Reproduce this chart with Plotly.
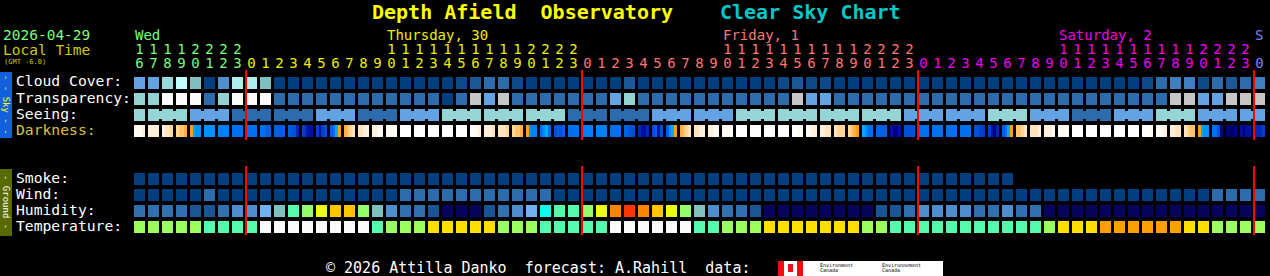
import plotly.graph_objects as go

# ---------------- data ----------------
hours = [16, 17, 18, 19, 20, 21, 22, 23] + list(range(24)) + list(range(24)) + list(range(24)) + [0]
day_index = [0] * 8 + [1] * 24 + [2] * 24 + [3] * 24 + [4]
day_names = ["Wed", "Thursday, 30", "Friday, 1", "Saturday, 2", "S"]
day_colors = ["#7cfc7c", "#eeee00", "#ff7474", "#ee00ee", "#8080ff"]

# cloud cover, percent
cloud_cover = [60, 60, 80, 100, 70, 0, 50, 90, 90, 70,
               0, 0, 0, 0, 0, 0, 0, 0, 0, 0,
               0, 0, 0, 10, 20, 30, 30, 10, 0, 0,
               0, 0, 0, 0, 0, 20, 0, 0, 0, 0,
               0, 0, 0, 0, 0, 0, 10, 20, 10, 10,
               0, 0, 0, 0, 0, 0, 0, 0, 0, 0,
               0, 0, 0, 0, 0, 0, 0, 0, 0, 0,
               0, 0, 10, 30, 40, 40, 10, 30, 20, 30,
               40]
# transparency: 0 transparent .. 3 below avg, 4 poor, 5 too cloudy
transparency = [3, 3, 5, 5, 5, 1, 3, 5, 5, 5,
                1, 1, 1, 1, 1, 1, 1, 1, 1, 1,
                1, 1, 0, 1, 4, 2, 4, 1, 1, 1,
                1, 1, 1, 1, 2, 3, 1, 1, 1, 1,
                1, 1, 1, 1, 1, 1, 1, 4, 2, 2,
                1, 1, 1, 1, 1, 1, 1, 1, 1, 1,
                1, 1, 1, 1, 1, 1, 1, 1, 1, 1,
                1, 1, 1, 1, 4, 4, 2, 2, 4, 4,
                4]
# seeing, x/5
seeing = [2, 2, 2, 2, 3, 3, 3, 4, 4, 4,
          4, 4, 4, 3, 3, 3, 4, 4, 4, 3,
          3, 3, 2, 2, 2, 2, 2, 2, 2, 2,
          2, 4, 4, 4, 4, 4, 4, 3, 3, 3,
          3, 3, 3, 2, 2, 2, 2, 2, 2, 2,
          2, 2, 2, 2, 2, 3, 3, 3, 3, 3,
          3, 2, 2, 2, 3, 3, 3, 4, 4, 4,
          3, 3, 3, 2, 2, 2, 3, 3, 3, 3,
          3]
# darkness, four quarter-hour codes per hour
darkness = ["1112", "2222", "2334", "4556", "Ocbb", "bbbb", "BBBB", "mmmm", "mmmm", "mmMM",
            "MMMM", "Mnnd", "NdDD", "NDNn", "MmcO", "6543", "3322", "2211", "111W", "WWWW",
            "WWWW", "WWWW", "WWWW", "WWWW", "W112", "2223", "3334", "4556", "ObBB", "mbcm",
            "nMnM", "mmmm", "BBBB", "BBBB", "mmmm", "MMnn", "dDDd", "nMDn", "MbcO", "6543",
            "3322", "2211", "111W", "WWWW", "WWWW", "WWWW", "WWWW", "WW11", "1122", "2233",
            "3444", "456O", "cbmm", "MMMM", "DkkD", "nnnn", "mmmm", "mmmm", "mmmm", "mmmm",
            "nnNN", "NDkd", "MmcO", "5543", "3332", "2221", "1111", "WWWW", "WWWW", "WWWW",
            "WWWW", "WWWW", "WWW1", "1112", "2233", "3455", "Ocbb", "mmnk", "kKKk", "DkDD",
            "dddN"]
# smoke (0 = none); forecast ends after 63 hours
smoke = [0, 0, 0, 0, 0, 0, 0, 0, 0, 0, 0, 0, 0, 0, 0, 0, 0, 0, 0, 0, 0,
         0, 0, 0, 0, 0, 0, 0, 0, 0, 0, 0, 0, 0, 0, 0, 0, 0, 0, 0, 0, 0,
         0, 0, 0, 0, 0, 0, 0, 0, 0, 0, 0, 0, 0, 0, 0, 0, 0, 0, 0, 0, 0]
# wind class (0 = calm, 1 = light)
wind = [0, 0, 0, 0, 0, 1, 0, 0, 0, 0,
        0, 0, 0, 0, 0, 0, 0, 0, 0, 1,
        1, 1, 1, 1, 1, 1, 1, 1, 1, 1,
        0, 0, 0, 0, 0, 0, 0, 0, 0, 0,
        0, 0, 0, 0, 0, 0, 0, 0, 0, 0,
        0, 0, 0, 0, 0, 0, 0, 0, 0, 0,
        0, 0, 0, 0, 0, 0, 0, 0, 0, 0,
        0, 0, 0, 0, 0, 0, 0, 1, 1, 1,
        1]
# relative humidity, percent
humidity = [32, 32, 32, 32, 27, 27, 32, 37, 37, 42, 47, 57, 62, 67,
            72, 72, 62, 47, 37, 32, 32, 27, 22, 22, 22, 27, 32, 37, 42, 52, 57, 57, 62, 67, 77, 82, 77,
            72, 67, 62, 47, 37, 32, 32, 27, 22, 22, 22, 22, 22, 22, 22, 22, 27, 27, 32, 37, 37, 37, 37,
            32, 32, 37, 32, 32,
            22, 22, 22, 22, 22, 22, 22, 22, 22, 22, 22, 22, 22, 22, 22, 22]
# temperature, deg C
temperature = [18, 18, 18, 18, 18, 14, 14, 14, 14, 10, 10, 10, 10, 10,
               10, 10, 10, 14, 18, 18, 18, 22, 22, 22, 22, 22, 18, 18, 18, 14, 14, 14, 14, 14, 10, 10, 10,
               10, 10, 10, 14, 14, 18, 18, 18, 22, 22, 22, 22, 22, 22, 22, 18, 18, 14, 14, 14, 14, 14, 14,
               14, 14, 14, 14, 14, 18, 22, 22, 22, 26, 26, 26, 26, 26, 26, 22, 22, 18, 18, 18, 18]

# ---------------- colour scales ----------------
cloud_col = {0: "#003f7f", 10: "#0e4a8a", 20: "#1b5898", 30: "#2c6cac", 40: "#3f7fbf",
             50: "#4f8fcf", 60: "#63a3e3", 70: "#7fbfbf", 80: "#99d9d9", 90: "#aeeeee", 100: "#c0fcfc"}
transp_col = {0: "#003f7f", 1: "#2c6cac", 2: "#63a3e3", 3: "#95d3d3", 4: "#c6c6c6", 5: "#fbfbfb"}
seeing_col = {1: "#c7f7f7", 2: "#95d5d5", 3: "#63a3e3", 4: "#2c6cac", 5: "#003f7f"}
dark_col = {"W": "#ffffff", "1": "#fffaf2", "2": "#fff1dc", "3": "#ffe4bc", "4": "#ffd598",
            "5": "#ffc46c", "6": "#ffb040", "O": "#ffa014", "c": "#00a8ff", "b": "#0090ff",
            "B": "#0080f8", "m": "#0070ee", "M": "#0060e4", "n": "#0050d8", "N": "#0040cc",
            "d": "#0028b8", "D": "#0010a0", "k": "#000080", "K": "#000068"}
smoke_col = {0: "#053f80"}
wind_col = {0: "#003f7f", 1: "#2c6cac"}


def hum_color(v):
    bins = [(25, "#08035d"), (30, "#1a5596"), (35, "#3070b0"), (40, "#4e8ece"), (45, "#71b1f1"),
            (50, "#80c0c0"), (55, "#09feed"), (60, "#55faad"), (65, "#94fe6a"), (70, "#eafb16"),
            (75, "#fec600"), (80, "#fc8602"), (85, "#fe3401"), (101, "#ea0000")]
    for lim, c in bins:
        if v < lim:
            return c


def temp_color(v):
    bins = [(12, "#fbfbfb"), (16, "#55faad"), (20, "#9afe5e"), (24, "#fedf00"), (99, "#fea000")]
    for lim, c in bins:
        if v < lim:
            return c


# ---------------- geometry ----------------
W, H = 1270, 276
PITCH = 14.0
X0 = 139.5          # pixel centre of first column
CW = 11 / PITCH     # cell width in column units
CH = 12
rows = {"cloud": 77, "transp": 93, "seeing": 109, "dark": 125,
        "smoke": 173, "wind": 189, "hum": 205, "temp": 221}
MONO = "DejaVu Sans Mono"
LBL = 14.7

fig = go.Figure()
n = len(hours)
cols = list(range(n))


def add_row(values, colors, top):
    xs = list(range(len(values)))
    fig.add_trace(go.Bar(x=xs, y=[CH] * len(xs), base=[top] * len(xs), width=CW,
                         marker=dict(color=colors, line=dict(width=0)),
                         hoverinfo="skip", showlegend=False))


add_row(cloud_cover, [cloud_col[v] for v in cloud_cover], rows["cloud"])
add_row(transparency, [transp_col[v] for v in transparency], rows["transp"])
add_row(seeing, [seeing_col[v] for v in seeing], rows["seeing"])

# seeing connectors inside each 3-hour block
cx, ccol = [], []
for i in range(n - 1):
    if (i + 2) // 3 == (i + 3) // 3 and seeing[i] == seeing[i + 1]:
        cx.append(i + 0.5)
        ccol.append(seeing_col[seeing[i]])
fig.add_trace(go.Bar(x=cx, y=[8] * len(cx), base=[rows["seeing"] + 2] * len(cx), width=3.2 / PITCH,
                     marker=dict(color=ccol, line=dict(width=0)), hoverinfo="skip", showlegend=False))

# darkness in quarter-hour strips
dx, dcol = [], []
for i, code in enumerate(darkness):
    for k, ch in enumerate(code):
        dx.append(i - CW / 2 + (k + 0.5) * CW / 4)
        dcol.append(dark_col[ch])
fig.add_trace(go.Bar(x=dx, y=[CH] * len(dx), base=[rows["dark"]] * len(dx), width=CW / 4 + 0.012,
                     marker=dict(color=dcol, line=dict(width=0)), hoverinfo="skip", showlegend=False))

add_row(smoke, [smoke_col[v] for v in smoke], rows["smoke"])
add_row(wind, [wind_col[v] for v in wind], rows["wind"])
add_row(humidity, [hum_color(v) for v in humidity], rows["hum"])
add_row(temperature, [temp_color(v) for v in temperature], rows["temp"])

# hour labels
ones = [str(h % 10) for h in hours]
hcol = [day_colors[d] for d in day_index]
fig.add_trace(go.Scatter(x=cols, y=[64.5] * n, mode="text", text=ones,
                         textfont=dict(family=MONO, size=14, color=hcol),
                         hoverinfo="skip", showlegend=False))
tx = [i for i in cols if hours[i] >= 10]
fig.add_trace(go.Scatter(x=tx, y=[50] * len(tx), mode="text", text=[str(hours[i] // 10) for i in tx],
                         textfont=dict(family=MONO, size=14, color=[hcol[i] for i in tx]),
                         hoverinfo="skip", showlegend=False))

annotations = []
# day names
for d, name in enumerate(day_names):
    dc = [i for i in cols if day_index[i] == d]
    late = [i for i in dc if hours[i] >= 10]
    c0 = late[0] if late else dc[0]
    annotations.append(dict(x=c0 - CW / 2 - 0.08, y=35, xref="x", yref="y", text=name, showarrow=False,
                            xanchor="left", yanchor="middle",
                            font=dict(family=MONO, size=14, color=day_colors[d])))


def px(x):
    return x / W


def py(y):
    return 1 - y / H


def txt(x, y, s, color, size=14, bold=False, anchor="left", angle=0):
    annotations.append(dict(x=px(x), y=py(y), xref="paper", yref="paper",
                            text=("<b>%s</b>" % s) if bold else s, showarrow=False,
                            xanchor=anchor, yanchor="middle", textangle=angle,
                            font=dict(family=MONO, size=size, color=color)))


txt(370, 12, "Depth Afield\u00a0\u00a0Observatory", "#ffff00", 20, True)
txt(718, 12, "Clear Sky Chart", "#00c8c8", 20, True)
txt(1, 35, "2026-04-29", "#7cfc7c", 14.5)
txt(1, 50, "Local Time", "#cccc00", 14.5)
txt(2, 62, "(GMT -6.0)", "#cccc00", 7)
txt(14, 81, "Cloud Cover:", "#ffffff", LBL)
txt(14, 97, "Transparency:", "#ffffff", LBL)
txt(14, 113, "Seeing:", "#ffffff", LBL)
txt(14, 129, "Darkness:", "#d4c43c", LBL)
txt(14, 177, "Smoke:", "#ffffff", LBL)
txt(14, 193, "Wind:", "#ffffff", LBL)
txt(14, 209, "Humidity:", "#ffffff", LBL)
txt(14, 225, "Temperature:", "#ffffff", LBL)
txt(6, 105, "- - Sky - -", "#ffff00", 9, False, "center", 90)
txt(6, 202, "- Ground -", "#ffffff", 9, False, "center", 90)
txt(324, 268, "\u00a9 2026 Attilla Danko\u00a0\u00a0forecast: A.Rahill\u00a0\u00a0data:", "#ffffff", 15)
txt(818, 265, "Environment", "#000000", 5)
txt(818, 270, "Canada", "#000000", 5)
txt(880, 265, "Environnement", "#000000", 5)
txt(880, 270, "Canada", "#000000", 5)

shapes = []
# side panels
shapes.append(dict(type="rect", xref="paper", yref="paper", x0=px(0), x1=px(12), y0=py(138), y1=py(72),
                   fillcolor="#1060e0", line=dict(width=0), layer="below"))
shapes.append(dict(type="rect", xref="paper", yref="paper", x0=px(0), x1=px(12), y0=py(236), y1=py(169),
                   fillcolor="#5a6a00", line=dict(width=0), layer="below"))
# logo block
shapes.append(dict(type="rect", xref="paper", yref="paper", x0=px(778), x1=px(943), y0=py(276), y1=py(261),
                   fillcolor="#ffffff", line=dict(width=0)))
for a, b in [(778, 784), (797, 803)]:
    shapes.append(dict(type="rect", xref="paper", yref="paper", x0=px(a), x1=px(b), y0=py(276), y1=py(261),
                       fillcolor="#ee1111", line=dict(width=0)))
shapes.append(dict(type="rect", xref="paper", yref="paper", x0=px(788), x1=px(793), y0=py(272), y1=py(264),
                   fillcolor="#ee1111", line=dict(width=0)))
# midnight markers
for i in cols:
    if hours[i] == 0:
        xm = i - CW / 2
        for y0, y1 in [(70, 140), (166, 235)]:
            shapes.append(dict(type="line", xref="x", yref="y", x0=xm, x1=xm, y0=y0, y1=y1,
                               line=dict(color="#ff0000", width=2)))

fig.update_layout(
    width=W, height=H, margin=dict(l=0, r=0, t=0, b=0),
    paper_bgcolor="#000000", plot_bgcolor="#000000",
    barmode="overlay", bargap=0,
    xaxis=dict(range=[-X0 / PITCH, (W - X0) / PITCH], visible=False, fixedrange=True),
    yaxis=dict(range=[H, 0], visible=False, fixedrange=True),
    annotations=annotations, shapes=shapes, showlegend=False,
)
fig.write_html("out.html")
